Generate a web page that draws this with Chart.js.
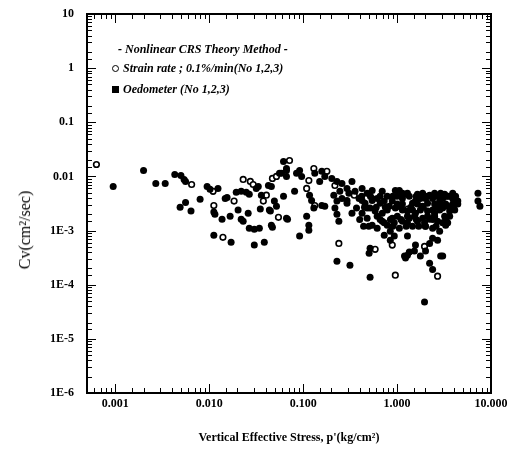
<!DOCTYPE html>
<html lang="en">
  <head>
    <meta charset="UTF-8" />
    <title>Cv vs Vertical Effective Stress</title>
    <script src="https://cdn.jsdelivr.net/npm/chart.js"></script>
    <style>
      html, body { margin: 0; padding: 0; background: #fff; }
      #wrap { position: relative; width: 518px; height: 453px; }
      .legend { position: absolute; font-family: "Liberation Serif", serif; font-weight: bold; font-style: italic; font-size: 12px; color: #000; white-space: nowrap; }
      .mk-open { display: inline-block; width: 5px; height: 5px; border: 1.5px solid #000; border-radius: 50%; margin-right: 4px; vertical-align: 0px; }
      .mk-fill { display: inline-block; width: 7px; height: 7px; background: #000; margin-right: 4px; vertical-align: 0px; }
      #ytitle { position: absolute; left: 25px; top: 230px; transform: translate(-50%, -50%) rotate(-90deg); font-family: "Liberation Serif", serif; font-size: 16px; white-space: nowrap; }
    </style>
  </head>
  <body>
    <div id="wrap">
      <canvas id="cvChart" width="518" height="453"></canvas>
      <div class="legend" style="left:118px; top:42px;">- Nonlinear CRS Theory Method -</div>
      <div class="legend" style="left:112px; top:61px;"><span class="mk-open"></span>Strain rate ; 0.1%/min(No 1,2,3)</div>
      <div class="legend" style="left:112px; top:82px;"><span class="mk-fill"></span>Oedometer (No 1,2,3)</div>
      <div id="ytitle">Cv(cm²/sec)</div>
    </div>

    <script>
      // decade ticks and their printed labels
      const xTickValues = [0.001, 0.01, 0.1, 1, 10];
      const xTickLabels = ["0.001", "0.010", "0.100", "1.000", "10.000"];
      const yTickValues = [1e-6, 1e-5, 1e-4, 1e-3, 0.01, 0.1, 1, 10];
      const yTickLabels = ["1E-6", "1E-5", "1E-4", "1E-3", "0.01", "0.1", "1", "10"];

      // [p' (kg/cm2), Cv (cm2/sec)]
      const strainRatePoints = [
        [0.00063, 0.0166], [0.0065, 0.0071], [0.011, 0.0053], [0.0112, 0.0029],
        [0.014, 0.00075], [0.0184, 0.0035], [0.023, 0.0088], [0.0274, 0.0081],
        [0.0294, 0.0071], [0.0377, 0.0035], [0.0406, 0.0045], [0.0471, 0.0092],
        [0.052, 0.010], [0.0546, 0.00176], [0.0716, 0.0197], [0.109, 0.006],
        [0.115, 0.0084], [0.130, 0.014], [0.133, 0.0029], [0.179, 0.0124],
        [0.218, 0.0068], [0.24, 0.00058], [0.584, 0.00045], [0.889, 0.00054],
        [0.958, 0.00015], [1.96, 0.00051], [2.70, 0.000144], [0.35, 0.0045],
        [1.3, 0.0025], [2.5, 0.0018]
      ];

      const oedometerPoints = [
        [0.00095, 0.0065], [0.0020, 0.0129], [0.0027, 0.0074], [0.0034, 0.0074],
        [0.0043, 0.0109], [0.0050, 0.0104], [0.0054, 0.0088], [0.0056, 0.0081],
        [0.0049, 0.0027], [0.0056, 0.0033], [0.0064, 0.0023], [0.0080, 0.0038],
        [0.0095, 0.0065], [0.0102, 0.0058], [0.0124, 0.006], [0.0112, 0.0022],
        [0.0115, 0.002], [0.0148, 0.0039], [0.0155, 0.0041], [0.0137, 0.00161],
        [0.0167, 0.00183], [0.0203, 0.0024], [0.0219, 0.00161], [0.023, 0.00148],
        [0.026, 0.0021], [0.0194, 0.0051], [0.0219, 0.0053], [0.0248, 0.0051],
        [0.0267, 0.0047], [0.0333, 0.0065], [0.0359, 0.0045], [0.035, 0.0025],
        [0.0427, 0.0068], [0.0459, 0.0065], [0.0448, 0.0023], [0.0494, 0.0035],
        [0.056, 0.0114], [0.0459, 0.00125], [0.0471, 0.00115], [0.0267, 0.0011],
        [0.0302, 0.00106], [0.0342, 0.0011], [0.0112, 0.00082], [0.0171, 0.00061],
        [0.0302, 0.00054], [0.0386, 0.00061], [0.0317, 0.006], [0.0437, 0.0024],
        [0.0618, 0.0189], [0.0665, 0.014], [0.0588, 0.0114], [0.0618, 0.0043],
        [0.052, 0.0028], [0.0682, 0.00161], [0.0665, 0.0129], [0.0665, 0.010],
        [0.0851, 0.0114], [0.0917, 0.0129], [0.0964, 0.010], [0.133, 0.0114],
        [0.158, 0.0124], [0.170, 0.010], [0.150, 0.0081], [0.0811, 0.0053],
        [0.117, 0.0045], [0.123, 0.0036], [0.130, 0.0026], [0.158, 0.0029],
        [0.170, 0.0028], [0.109, 0.00183], [0.115, 0.00125], [0.115, 0.00101],
        [0.0665, 0.00168], [0.0917, 0.00079],
        [0.202, 0.0092], [0.229, 0.0081], [0.259, 0.0074], [0.293, 0.006],
        [0.246, 0.0053], [0.307, 0.0049], [0.212, 0.0045], [0.229, 0.0035],
        [0.218, 0.0026], [0.229, 0.002], [0.240, 0.00148], [0.331, 0.0081],
        [0.357, 0.0053], [0.394, 0.0039],
        [0.424, 0.006], [0.48, 0.0049], [0.543, 0.0055], [0.614, 0.0039],
        [0.456, 0.0032], [0.516, 0.0026], [0.584, 0.0023], [0.661, 0.0032],
        [0.695, 0.0021], [0.786, 0.0043], [0.826, 0.0028], [0.48, 0.00168],
        [0.543, 0.00125], [0.614, 0.0011], [0.695, 0.00148], [0.889, 0.00168],
        [0.424, 0.0021], [0.695, 0.0053], [0.730, 0.0035], [0.889, 0.0035],
        [0.958, 0.0055], [1.057, 0.0055], [1.14, 0.0039], [1.23, 0.0047],
        [1.35, 0.0043], [1.46, 0.0032], [1.57, 0.0035], [1.65, 0.0047],
        [1.77, 0.0039], [1.87, 0.0028], [2.01, 0.0039], [2.11, 0.0032],
        [2.22, 0.0045], [2.39, 0.0039], [2.51, 0.0031], [2.70, 0.0043],
        [2.84, 0.0035], [3.06, 0.0039], [3.21, 0.0047], [3.46, 0.0043],
        [3.63, 0.0043], [3.91, 0.0039], [4.11, 0.0035], [4.43, 0.0035],
        [0.958, 0.0026], [1.006, 0.00183], [1.14, 0.00148], [1.057, 0.0011],
        [1.29, 0.0023], [1.35, 0.00168], [1.46, 0.0012], [1.57, 0.0021],
        [1.65, 0.00148], [1.77, 0.0024], [1.87, 0.00168], [2.01, 0.0012],
        [2.11, 0.0023], [2.22, 0.00161], [2.39, 0.0011], [2.51, 0.0021],
        [2.70, 0.00148], [2.84, 0.00097], [3.06, 0.0026], [3.21, 0.00183],
        [3.29, 0.00125], [3.46, 0.0028], [3.63, 0.0023], [3.91, 0.0026],
        [0.847, 0.00097], [0.786, 0.00125],
        [1.14, 0.0049], [1.29, 0.0049], [1.87, 0.0049], [2.51, 0.0049],
        [2.91, 0.0049], [3.91, 0.0049], [1.006, 0.0031], [1.14, 0.0031],
        [1.65, 0.0031], [2.84, 0.0031], [3.29, 0.0031], [3.91, 0.0031],
        [4.43, 0.0031], [1.14, 0.0024], [1.46, 0.0024], [2.39, 0.0024],
        [2.84, 0.0024], [4.11, 0.0024], [1.29, 0.00183], [1.53, 0.00183],
        [2.11, 0.00183], [2.51, 0.00183], [3.63, 0.00183], [0.934, 0.0014],
        [1.29, 0.0014], [1.96, 0.0014], [3.06, 0.0014], [3.46, 0.0014],
        [0.424, 0.0036], [0.543, 0.0036], [0.293, 0.0036], [0.48, 0.0026],
        [0.614, 0.00183], [0.786, 0.0024], [0.543, 0.0039], [0.73, 0.0014],
        [0.37, 0.0026], [0.293, 0.0032], [0.331, 0.0021], [0.259, 0.0039],
        [0.44, 0.0012],
        [0.42, 0.0043], [0.52, 0.0043], [0.66, 0.0043], [0.9, 0.0043],
        [1.0, 0.0043], [1.6, 0.0043], [2.1, 0.0043], [3.3, 0.0043],
        [4.2, 0.0043], [0.45, 0.0027], [0.6, 0.0027], [0.75, 0.0027],
        [1.1, 0.0027], [1.4, 0.0027], [1.9, 0.0027], [2.6, 0.0027],
        [3.0, 0.0027], [4.0, 0.0027], [0.4, 0.0016], [0.66, 0.0016],
        [0.85, 0.0016], [1.1, 0.0016], [1.6, 0.0016], [2.4, 0.0016],
        [3.3, 0.0016], [0.5, 0.0012], [0.9, 0.0012], [1.25, 0.0012],
        [1.7, 0.0012], [2.0, 0.0012], [2.6, 0.0012],
        [0.730, 0.00082], [0.934, 0.00079], [1.29, 0.00079], [1.57, 0.00054],
        [1.53, 0.00042], [2.22, 0.00058], [2.39, 0.00072], [2.70, 0.00066],
        [3.06, 0.00034], [1.29, 0.00035], [1.20, 0.00034], [1.35, 0.0004],
        [1.23, 0.00031], [1.77, 0.00034], [2.01, 0.00042], [2.22, 0.00025],
        [2.39, 0.00019], [2.91, 0.00034], [1.96, 0.000048], [0.229, 0.00027],
        [0.315, 0.00023], [0.504, 0.00038], [0.516, 0.000138], [0.847, 0.00066],
        [0.516, 0.00047],
        [7.26, 0.0049], [7.26, 0.0035], [7.62, 0.0028]
      ];

      function decadeIndex(v) {
        const l = Math.log10(v);
        return Math.abs(l - Math.round(l)) < 1e-6 ? Math.round(l) : null;
      }

      // inward tick marks on all four sides plus the frame
      const frameTicks = {
        id: "frameTicks",
        afterDraw(chart) {
          const { ctx, chartArea: a, scales } = chart;
          ctx.save();
          ctx.strokeStyle = "#000";
          ctx.lineWidth = 1;
          ctx.beginPath();
          scales.x.ticks.forEach((t) => {
            const px = Math.round(scales.x.getPixelForValue(t.value)) + 0.5;
            const len = decadeIndex(t.value) !== null ? 9 : 5;
            ctx.moveTo(px, a.bottom); ctx.lineTo(px, a.bottom - len);
            ctx.moveTo(px, a.top); ctx.lineTo(px, a.top + len);
          });
          scales.y.ticks.forEach((t) => {
            const py = Math.round(scales.y.getPixelForValue(t.value)) + 0.5;
            const len = decadeIndex(t.value) !== null ? 9 : 5;
            ctx.moveTo(a.left, py); ctx.lineTo(a.left + len, py);
            ctx.moveTo(a.right, py); ctx.lineTo(a.right - len, py);
          });
          ctx.stroke();
          ctx.lineWidth = 2;
          ctx.strokeRect(a.left, a.top, a.right - a.left, a.bottom - a.top);
          ctx.restore();
        },
      };

      const tickFont = { family: "'Liberation Serif', serif", size: 12, weight: "bold" };

      new Chart(document.getElementById("cvChart"), {
        type: "scatter",
        data: {
          datasets: [
            {
              label: "Oedometer (No 1,2,3)",
              data: oedometerPoints.map(([p, cv]) => ({ x: p, y: cv })),
              pointStyle: "circle",
              pointRadius: 3.5,
              backgroundColor: "#000",
              borderColor: "#000",
              borderWidth: 0,
            },
            {
              label: "Strain rate ; 0.1%/min(No 1,2,3)",
              data: strainRatePoints.map(([p, cv]) => ({ x: p, y: cv })),
              pointStyle: "circle",
              pointRadius: 2.8,
              backgroundColor: "#fff",
              borderColor: "#000",
              borderWidth: 1.6,
            },
          ],
        },
        options: {
          responsive: false,
          animation: false,
          layout: { padding: { top: 14, right: 27, left: 0, bottom: 0 } },
          plugins: { legend: { display: false }, tooltip: { enabled: false } },
          scales: {
            x: {
              type: "logarithmic",
              min: 0.0005,
              max: 10,
              grid: { display: false },
              border: { display: false },
              afterFit: (s) => { s.height = 60; },
              ticks: {
                autoSkip: false,
                maxRotation: 0,
                padding: -4,
                color: "#000",
                font: tickFont,
                callback: (v) => {
                  const i = xTickValues.findIndex((t) => Math.abs(Math.log10(t) - Math.log10(v)) < 1e-6);
                  return i >= 0 ? xTickLabels[i] : "";
                },
              },
              title: {
                display: true,
                text: "Vertical Effective Stress, p'(kg/cm²)",
                color: "#000",
                font: { family: "'Liberation Serif', serif", size: 12, weight: "bold" },
                padding: { top: 12, bottom: 8 },
              },
            },
            y: {
              type: "logarithmic",
              min: 1e-6,
              max: 10,
              grid: { display: false },
              border: { display: false },
              afterFit: (s) => { s.width = 87; },
              ticks: {
                autoSkip: false,
                padding: 5,
                color: "#000",
                font: tickFont,
                callback: (v) => {
                  const i = yTickValues.findIndex((t) => Math.abs(Math.log10(t) - Math.log10(v)) < 1e-6);
                  return i >= 0 ? yTickLabels[i] : "";
                },
              },
            },
          },
        },
        plugins: [frameTicks],
      });
    </script>
  </body>
</html>
